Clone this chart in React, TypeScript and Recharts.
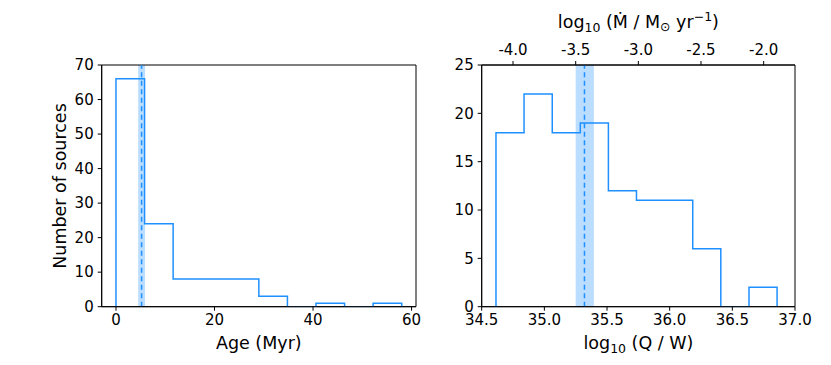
import React from "react";
import {
  ComposedChart,
  Line,
  XAxis,
  YAxis,
  ReferenceArea,
  ReferenceLine,
  Label,
} from "recharts";

// ---- Data ----
const ageEdges = [0, 5.8, 11.6, 17.4, 23.2, 29.0, 34.8, 40.6, 46.4, 52.2, 58.0];
const ageCounts = [66, 24, 8, 8, 8, 3, 0, 1, 0, 1];
const ageMedian = 5.2;
const ageBand = [4.5, 5.9];
const ageTicks = [0, 20, 40, 60];
const ageYTicks = [0, 10, 20, 30, 40, 50, 60, 70];

const qEdges = [34.614, 34.838, 35.063, 35.287, 35.511, 35.735, 35.96, 36.184, 36.408, 36.633, 36.857];
const qCounts = [18, 22, 18, 19, 12, 11, 11, 6, 0, 2];
const qMedian = 35.32;
const qBand = [35.25, 35.395];
const qTicks = [34.5, 35.0, 35.5, 36.0, 36.5, 37.0];
const qYTicks = [0, 5, 10, 15, 20, 25];
const mdotTicks = [-4.0, -3.5, -3.0, -2.5, -2.0];
const qToMdotOffset = 38.75;

const BLUE = "#1E90FF";
const FONT = "'DejaVu Sans', sans-serif";

function steps(edges: number[], counts: number[]) {
  const pts: { x: number; y: number }[] = [{ x: edges[0], y: 0 }];
  for (let i = 0; i < counts.length; i++) {
    pts.push({ x: edges[i], y: counts[i] });
    pts.push({ x: edges[i + 1], y: counts[i] });
  }
  pts.push({ x: edges[edges.length - 1], y: 0 });
  return pts;
}

const tickStyle = { fill: "#000", fontSize: 15, fontFamily: FONT };

export default function App() {
  const ageData = steps(ageEdges, ageCounts);
  const qData = steps(qEdges, qCounts);
  const mdotTicksInQ = mdotTicks.map((m) => m + qToMdotOffset);
  return (
    <div
      style={{
        position: "absolute",
        left: 0,
        top: 0,
        width: 831,
        height: 365,
        background: "#fff",
        fontFamily: FONT,
      }}
    >
      <div style={{ position: "absolute", left: 0, top: 0 }}>
        <ComposedChart
          width={440}
          height={365}
          data={ageData}
          margin={{ top: 65, right: 24, bottom: 18.3, left: 0 }}
        >
          <XAxis
            dataKey="x"
            type="number"
            domain={[-2.9, 60.9]}
            ticks={ageTicks}
            allowDataOverflow
            height={40}
            tickSize={4}
            tickMargin={4}
            tick={tickStyle}
            stroke="#000"
            tickLine={{ stroke: "#000" }}
          >
            <Label
              content={() => (
                <text x={258.8} y={349} textAnchor="middle" fontSize={17.5} fontFamily={FONT} fill="#000">
                  Age (Myr)
                </text>
              )}
            />
          </XAxis>
          <YAxis
            type="number"
            domain={[0, 70]}
            ticks={ageYTicks}
            allowDataOverflow
            width={101.7}
            tickSize={4}
            tickMargin={4}
            tick={tickStyle}
            stroke="#000"
            tickLine={{ stroke: "#000" }}
          >
            <Label
              content={() => (
                <text
                  x={66}
                  y={186}
                  transform="rotate(-90, 66, 186)"
                  textAnchor="middle"
                  fontSize={17.5}
                  fontFamily={FONT}
                  fill="#000"
                >
                  Number of sources
                </text>
              )}
            />
          </YAxis>
          <ReferenceArea
            x1={ageBand[0]}
            x2={ageBand[1]}
            y1={0}
            y2={70}
            fill={BLUE}
            fillOpacity={0.3}
            stroke="none"
          />
          <Line
            dataKey="y"
            type="linear"
            stroke={BLUE}
            strokeWidth={1.5}
            dot={false}
            activeDot={false}
            isAnimationActive={false}
          />
          <ReferenceLine x={ageMedian} stroke={BLUE} strokeWidth={1.5} strokeDasharray="5 3.5" />
          <ReferenceArea
            x1={-2.9}
            x2={60.9}
            y1={0}
            y2={70}
            fill="none"
            stroke="#000"
            strokeWidth={1}
          />
        </ComposedChart>
      </div>

      <div style={{ position: "absolute", left: 430, top: 0 }}>
        <ComposedChart
          width={401}
          height={365}
          data={qData}
          margin={{ top: 25, right: 36, bottom: 18.3, left: 0 }}
        >
          <XAxis
            xAxisId="bottom"
            dataKey="x"
            type="number"
            domain={[34.5, 37.0]}
            ticks={qTicks}
            allowDataOverflow
            height={40}
            tickSize={4}
            tickMargin={4}
            tick={tickStyle}
            tickFormatter={(v: number) => v.toFixed(1)}
            stroke="#000"
            tickLine={{ stroke: "#000" }}
          >
            <Label
              content={() => (
                <text x={208.4} y={349} textAnchor="middle" fontSize={17.5} fontFamily={FONT} fill="#000">
                  log
                  <tspan fontSize={12.5} dy={4}>10</tspan>
                  <tspan dy={-4}> (Q / W)</tspan>
                </text>
              )}
            />
          </XAxis>
          <XAxis
            xAxisId="top"
            orientation="top"
            dataKey="x"
            type="number"
            domain={[34.5, 37.0]}
            ticks={mdotTicksInQ}
            allowDataOverflow
            height={40}
            tickSize={4}
            tickMargin={6}
            tick={tickStyle}
            tickFormatter={(v: number) => (v - qToMdotOffset).toFixed(1)}
            stroke="#000"
            tickLine={{ stroke: "#000" }}
          >
            <Label
              content={() => (
                <text x={208.4} y={28} textAnchor="middle" fontSize={17.5} fontFamily={FONT} fill="#000">
                  log
                  <tspan fontSize={12.5} dy={4}>10</tspan>
                  <tspan dy={-4}> (Ṁ / M</tspan>
                  <tspan fontSize={12.5} dy={3}>⊙</tspan>
                  <tspan dy={-3}> yr</tspan>
                  <tspan fontSize={12.5} dy={-7}>−1</tspan>
                  <tspan dy={7}>)</tspan>
                </text>
              )}
            />
          </XAxis>
          <YAxis
            type="number"
            domain={[0, 25]}
            ticks={qYTicks}
            allowDataOverflow
            width={51.7}
            tickSize={4}
            tickMargin={4}
            tick={tickStyle}
            stroke="#000"
            tickLine={{ stroke: "#000" }}
          />
          <ReferenceArea
            xAxisId="bottom"
            x1={qBand[0]}
            x2={qBand[1]}
            y1={0}
            y2={25}
            fill={BLUE}
            fillOpacity={0.3}
            stroke="none"
          />
          <Line
            xAxisId="top"
            dataKey="y"
            type="linear"
            stroke="none"
            dot={false}
            activeDot={false}
            isAnimationActive={false}
          />
          <Line
            xAxisId="bottom"
            dataKey="y"
            type="linear"
            stroke={BLUE}
            strokeWidth={1.5}
            dot={false}
            activeDot={false}
            isAnimationActive={false}
          />
          <ReferenceLine
            xAxisId="bottom"
            x={qMedian}
            stroke={BLUE}
            strokeWidth={1.5}
            strokeDasharray="5 3.5"
          />
          <ReferenceArea
            xAxisId="bottom"
            x1={34.5}
            x2={37.0}
            y1={0}
            y2={25}
            fill="none"
            stroke="#000"
            strokeWidth={1}
          />
        </ComposedChart>
      </div>
    </div>
  );
}
